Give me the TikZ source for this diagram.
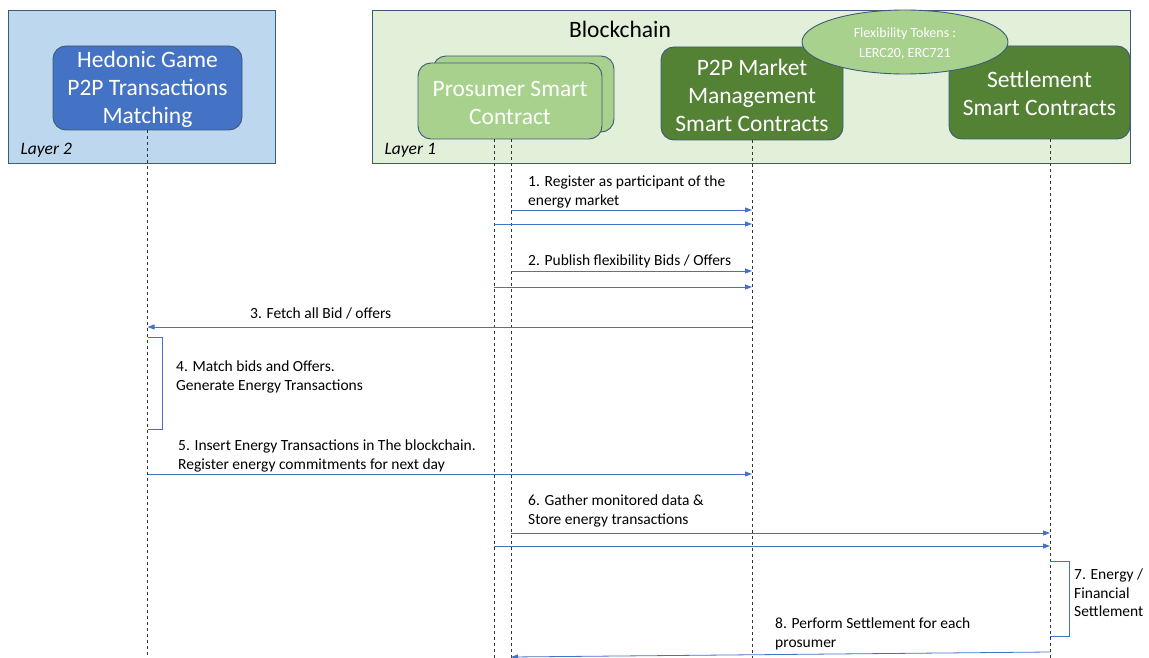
\documentclass[tikz,border=0pt]{standalone}
\usepackage{fontspec}
\setmainfont{Carlito}
\usepackage{xcolor}
\usepackage{tikz}
\usetikzlibrary{arrows.meta}
\usetikzlibrary{shapes.geometric}

\definecolor{layerblue}{HTML}{BDD7EE}
\definecolor{layergreen}{HTML}{E2F0D9}
\definecolor{nodeblue}{HTML}{4472C4}
\definecolor{lightgreen}{HTML}{A9D18E}
\definecolor{darkgreen}{HTML}{548235}
\definecolor{edgec}{HTML}{3C5A7A}
\definecolor{msgblue}{HTML}{4472C4}

\begin{document}
\begin{tikzpicture}[x=1pt,y=-1pt]
\tikzset{layer/.style={draw=edgec,line width=0.9pt,inner sep=0pt}}
\tikzset{actor/.style={draw=edgec,line width=0.9pt,rounded corners=13pt,text=white,align=center,font=\fontsize{23.5}{28}\selectfont}}
\tikzset{lifeline/.style={draw=black!80,dash pattern=on 3pt off 3pt,line width=0.8pt}}
\tikzset{msg/.style={draw=msgblue,line width=0.8pt,-{Triangle[length=7pt,width=5pt]}}}
\tikzset{bracket/.style={draw=msgblue,line width=0.8pt}}
\tikzset{label/.style={anchor=north west,inner sep=0pt,align=left,font=\fontsize{15.5}{18.5}\selectfont}}

\useasboundingbox (0,0) rectangle (1149,658);

% layers
\node[layer,fill=layerblue,minimum width=267pt,minimum height=153pt] (layer2) at (141.5,86.5) {};
\node[layer,fill=layergreen,minimum width=758pt,minimum height=153pt] (layer1) at (751,86.5) {};
\node[anchor=west,font=\fontsize{17.5}{20}\selectfont\itshape] (l2name) at (17,150) {Layer 2};
\node[anchor=west,font=\fontsize{17.5}{20}\selectfont\itshape] (l1name) at (381,150) {Layer 1};
\node[font=\fontsize{23.5}{28}\selectfont] (bcname) at (620,29) {Blockchain};

% actors
\node[actor,fill=nodeblue,minimum width=189pt,minimum height=84pt] (hg) at (147.5,88) {};
\node[actor,fill=lightgreen,minimum width=181pt,minimum height=76pt] (proback) at (523.5,94) {};
\node[actor,fill=lightgreen,minimum width=184pt,minimum height=76pt] (pro) at (510,101) {};
\node[actor,fill=darkgreen,minimum width=182pt,minimum height=93pt] (mk) at (752,93.5) {};
\node[actor,fill=darkgreen,minimum width=181pt,minimum height=93pt] (st) at (1039.5,92.5) {};
\node[actor,draw=none,fill=none,yshift=-1.5pt] (hgname) at (hg) {Hedonic Game\\P2P Transactions\\Matching};
\node[actor,draw=none,fill=none,yshift=-1.5pt] (proname) at (pro) {Prosumer Smart\\Contract};
\node[actor,draw=none,fill=none,yshift=-1.5pt] (mkname) at (mk) {P2P Market\\Management\\Smart Contracts};
\node[actor,draw=none,fill=none,yshift=-0.5pt] (stname) at (st) {Settlement\\Smart Contracts};
\node[ellipse,draw=edgec,line width=0.9pt,fill=lightgreen,minimum width=206pt,minimum height=64pt] (tokens) at (905,42) {};
\node[text=white,align=center,font=\fontsize{14}{20}\selectfont,yshift=-2pt] (tokname) at (tokens) {Flexibility Tokens :\\LERC20, ERC721};

% lifelines
\coordinate (ll-hg) at (hg.south);
\coordinate (ll-pa) at (494,139);
\coordinate (ll-pb) at (511,139);
\coordinate (ll-mk) at (mk.south);
\coordinate (ll-st) at (1050,139);
\foreach \ll in {hg,pa,pb,mk,st}
   \draw[lifeline] (ll-\ll) -- (ll-\ll |- 0,658);

% messages
\foreach \from/\to/\y in {pb/mk/210, pa/mk/224, pb/mk/271, pa/mk/287,
                          mk/hg/327, hg/mk/474, pb/st/533, pa/st/546}
   \draw[msg] (ll-\from |- 0,\y) -- (ll-\to |- 0,\y);
\draw[msg] (ll-st |- 0,652) -- (ll-pb |- 0,657);

\draw[bracket] (ll-hg |- 0,337) -- ++(15,0) -- ++(0,92) -- ++(-15,0);
\draw[bracket] (ll-st |- 0,561) -- ++(19,0) -- ++(0,75) -- ++(-19,0);

% labels
\node[label] (l1) at (528,176) {1. Register as participant of the\\energy market};
\node[label] (l2) at (528,255) {2. Publish flexibility Bids / Offers};
\node[label] (l3) at (250,308) {3. Fetch all Bid / offers};
\node[label] (l4) at (176,361) {4. Match bids and Offers.\\Generate Energy Transactions};
\node[label] (l5) at (178,440) {5. Insert Energy Transactions in The blockchain.\\Register energy commitments for next day};
\node[label] (l6) at (528,495) {6. Gather monitored data \&\\Store energy transactions};
\node[label] (l7) at (1074,569) {7. Energy /\\Financial\\Settlement};
\node[label] (l8) at (775,618) {8. Perform Settlement for each\\prosumer};
\end{tikzpicture}
\end{document}
